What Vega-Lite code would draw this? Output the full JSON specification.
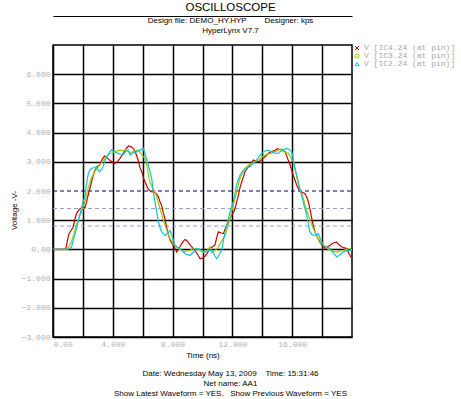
{
"$schema": "https://vega.github.io/schema/vega-lite/v6.json",
"width": 299, "height": 292,
"autosize": {"type": "none"},
"padding": {"left": 53, "top": 45, "right": 109, "bottom": 62},
"background": "white",
"config": {"view": {"stroke": "black", "strokeWidth": 1.5}, "font": "Liberation Sans",
"axisY": {"domain": false, "ticks": false, "grid": true, "gridColor": "black", "gridWidth": 1.5, "labelOverlap": false,
"labelFont": "Liberation Mono", "labelFontSize": 8, "labelColor": "#b0b0b0", "labelPadding": 3,
"titleFontSize": 8, "titleFontWeight": "normal", "titleColor": "black", "titleX": -35, "titleY": 165}},
"title": {"text": "OSCILLOSCOPE", "subtitle": ["Design file: DEMO_HY.HYP\u00a0\u00a0\u00a0\u00a0\u00a0\u00a0\u00a0\u00a0Designer: kps", "HyperLynx V7.7"], "anchor": "middle", "frame": "group", "dx": 28, "offset": -19, "fontSize": 11.5, "fontWeight": "normal", "color": "black", "subtitleFontSize": 8, "subtitleColor": "black", "subtitlePadding": 4, "subtitleLineHeight": 10},
"datasets": {
"thr_hi": [{"v": 2.0}],
"thr_lo": [{"v": 1.4}, {"v": 0.8}]
},
"data": {"values": [
{"s":"IC4","t":0,"v":0},{"s":"IC4","t":0.85,"v":0},{"s":"IC4","t":0.94,"v":0.25},{"s":"IC4","t":1.07,"v":0.54},{"s":"IC4","t":1.34,"v":0.75},{"s":"IC4","t":1.5,"v":1.1},{"s":"IC4","t":1.6,"v":1.25},{"s":"IC4","t":1.78,"v":1.38},{"s":"IC4","t":2.0,"v":1.46},{"s":"IC4","t":2.14,"v":1.42},{"s":"IC4","t":2.23,"v":1.6},{"s":"IC4","t":2.36,"v":1.88},{"s":"IC4","t":2.5,"v":2.15},{"s":"IC4","t":2.63,"v":2.43},{"s":"IC4","t":2.8,"v":2.7},{"s":"IC4","t":2.95,"v":2.83},{"s":"IC4","t":3.12,"v":2.89},{"s":"IC4","t":3.3,"v":3.1},{"s":"IC4","t":3.46,"v":3.2},{"s":"IC4","t":3.6,"v":3.15},{"s":"IC4","t":3.8,"v":3.05},{"s":"IC4","t":3.95,"v":3.0},{"s":"IC4","t":4.14,"v":2.94},{"s":"IC4","t":4.3,"v":3.0},{"s":"IC4","t":4.48,"v":3.12},{"s":"IC4","t":4.65,"v":3.25},{"s":"IC4","t":4.82,"v":3.4},{"s":"IC4","t":5.04,"v":3.54},{"s":"IC4","t":5.2,"v":3.52},{"s":"IC4","t":5.37,"v":3.46},{"s":"IC4","t":5.5,"v":3.35},{"s":"IC4","t":5.6,"v":3.2},{"s":"IC4","t":5.7,"v":3.05},{"s":"IC4","t":5.82,"v":2.8},{"s":"IC4","t":5.94,"v":2.66},{"s":"IC4","t":6.05,"v":2.45},{"s":"IC4","t":6.16,"v":2.3},{"s":"IC4","t":6.3,"v":2.14},{"s":"IC4","t":6.39,"v":2.05},{"s":"IC4","t":6.55,"v":1.98},{"s":"IC4","t":6.71,"v":1.97},{"s":"IC4","t":6.9,"v":1.92},{"s":"IC4","t":7.05,"v":1.8},{"s":"IC4","t":7.16,"v":1.62},{"s":"IC4","t":7.27,"v":1.5},{"s":"IC4","t":7.38,"v":1.25},{"s":"IC4","t":7.49,"v":1.05},{"s":"IC4","t":7.6,"v":0.75},{"s":"IC4","t":7.72,"v":0.5},{"s":"IC4","t":7.85,"v":0.3},{"s":"IC4","t":8.05,"v":0.14},{"s":"IC4","t":8.16,"v":0.05},{"s":"IC4","t":8.27,"v":-0.09},{"s":"IC4","t":8.45,"v":0.05},{"s":"IC4","t":8.61,"v":0.2},{"s":"IC4","t":8.8,"v":0.33},{"s":"IC4","t":8.94,"v":0.31},{"s":"IC4","t":9.1,"v":0.2},{"s":"IC4","t":9.25,"v":0.1},{"s":"IC4","t":9.5,"v":-0.03},{"s":"IC4","t":9.7,"v":-0.2},{"s":"IC4","t":9.84,"v":-0.32},{"s":"IC4","t":10.0,"v":-0.3},{"s":"IC4","t":10.17,"v":-0.24},{"s":"IC4","t":10.35,"v":-0.1},{"s":"IC4","t":10.5,"v":0.03},{"s":"IC4","t":10.7,"v":0.1},{"s":"IC4","t":10.84,"v":0.16},{"s":"IC4","t":10.95,"v":0.4},{"s":"IC4","t":11.06,"v":0.6},{"s":"IC4","t":11.25,"v":0.56},{"s":"IC4","t":11.4,"v":0.54},{"s":"IC4","t":11.55,"v":0.75},{"s":"IC4","t":11.73,"v":0.94},{"s":"IC4","t":11.95,"v":1.17},{"s":"IC4","t":12.1,"v":1.3},{"s":"IC4","t":12.2,"v":1.45},{"s":"IC4","t":12.4,"v":1.85},{"s":"IC4","t":12.5,"v":2.1},{"s":"IC4","t":12.62,"v":2.31},{"s":"IC4","t":12.75,"v":2.5},{"s":"IC4","t":12.84,"v":2.66},{"s":"IC4","t":13.07,"v":2.83},{"s":"IC4","t":13.25,"v":2.95},{"s":"IC4","t":13.4,"v":3.06},{"s":"IC4","t":13.6,"v":3.02},{"s":"IC4","t":13.74,"v":3.0},{"s":"IC4","t":13.9,"v":3.05},{"s":"IC4","t":14.07,"v":3.12},{"s":"IC4","t":14.25,"v":3.2},{"s":"IC4","t":14.41,"v":3.29},{"s":"IC4","t":14.6,"v":3.35},{"s":"IC4","t":14.85,"v":3.38},{"s":"IC4","t":15.0,"v":3.45},{"s":"IC4","t":15.2,"v":3.42},{"s":"IC4","t":15.35,"v":3.38},{"s":"IC4","t":15.52,"v":3.35},{"s":"IC4","t":15.7,"v":3.1},{"s":"IC4","t":15.86,"v":2.89},{"s":"IC4","t":16.0,"v":2.65},{"s":"IC4","t":16.1,"v":2.5},{"s":"IC4","t":16.2,"v":2.35},{"s":"IC4","t":16.3,"v":2.2},{"s":"IC4","t":16.45,"v":2.05},{"s":"IC4","t":16.6,"v":1.97},{"s":"IC4","t":16.86,"v":1.91},{"s":"IC4","t":17.0,"v":1.75},{"s":"IC4","t":17.08,"v":1.63},{"s":"IC4","t":17.2,"v":1.35},{"s":"IC4","t":17.31,"v":1.05},{"s":"IC4","t":17.42,"v":0.8},{"s":"IC4","t":17.53,"v":0.6},{"s":"IC4","t":17.7,"v":0.4},{"s":"IC4","t":17.86,"v":0.25},{"s":"IC4","t":18.05,"v":0.1},{"s":"IC4","t":18.2,"v":0.03},{"s":"IC4","t":18.35,"v":0.08},{"s":"IC4","t":18.53,"v":0.14},{"s":"IC4","t":18.75,"v":0.22},{"s":"IC4","t":18.98,"v":0.25},{"s":"IC4","t":19.15,"v":0.15},{"s":"IC4","t":19.32,"v":0.08},{"s":"IC4","t":19.5,"v":0.05},{"s":"IC4","t":19.65,"v":0.03},{"s":"IC4","t":19.8,"v":-0.15},{"s":"IC4","t":20.0,"v":-0.32},
{"s":"IC3","t":0,"v":0},{"s":"IC3","t":0.9,"v":0},{"s":"IC3","t":1.05,"v":0.1},{"s":"IC3","t":1.23,"v":0.25},{"s":"IC3","t":1.4,"v":0.55},{"s":"IC3","t":1.56,"v":0.83},{"s":"IC3","t":1.75,"v":1.1},{"s":"IC3","t":1.9,"v":1.28},{"s":"IC3","t":2.0,"v":1.45},{"s":"IC3","t":2.12,"v":1.63},{"s":"IC3","t":2.23,"v":1.85},{"s":"IC3","t":2.34,"v":2.08},{"s":"IC3","t":2.45,"v":2.25},{"s":"IC3","t":2.56,"v":2.43},{"s":"IC3","t":2.68,"v":2.55},{"s":"IC3","t":2.79,"v":2.66},{"s":"IC3","t":2.95,"v":2.78},{"s":"IC3","t":3.12,"v":2.89},{"s":"IC3","t":3.3,"v":3.0},{"s":"IC3","t":3.46,"v":3.12},{"s":"IC3","t":3.62,"v":3.2},{"s":"IC3","t":3.79,"v":3.29},{"s":"IC3","t":3.95,"v":3.3},{"s":"IC3","t":4.13,"v":3.35},{"s":"IC3","t":4.3,"v":3.38},{"s":"IC3","t":4.46,"v":3.4},{"s":"IC3","t":4.7,"v":3.38},{"s":"IC3","t":4.9,"v":3.42},{"s":"IC3","t":5.15,"v":3.3},{"s":"IC3","t":5.35,"v":3.35},{"s":"IC3","t":5.5,"v":3.38},{"s":"IC3","t":5.7,"v":3.4},{"s":"IC3","t":5.85,"v":3.3},{"s":"IC3","t":6.0,"v":3.2},{"s":"IC3","t":6.16,"v":3.12},{"s":"IC3","t":6.3,"v":2.8},{"s":"IC3","t":6.4,"v":2.5},{"s":"IC3","t":6.48,"v":2.31},{"s":"IC3","t":6.6,"v":2.15},{"s":"IC3","t":6.7,"v":2.05},{"s":"IC3","t":6.82,"v":1.97},{"s":"IC3","t":7.0,"v":1.7},{"s":"IC3","t":7.16,"v":1.4},{"s":"IC3","t":7.3,"v":1.15},{"s":"IC3","t":7.49,"v":0.83},{"s":"IC3","t":7.65,"v":0.6},{"s":"IC3","t":7.83,"v":0.37},{"s":"IC3","t":8.05,"v":0.2},{"s":"IC3","t":8.27,"v":0.08},{"s":"IC3","t":8.5,"v":0.0},{"s":"IC3","t":8.72,"v":-0.09},{"s":"IC3","t":8.95,"v":-0.05},{"s":"IC3","t":9.16,"v":-0.03},{"s":"IC3","t":9.4,"v":0.02},{"s":"IC3","t":9.61,"v":0.03},{"s":"IC3","t":9.85,"v":-0.05},{"s":"IC3","t":10.06,"v":-0.09},{"s":"IC3","t":10.3,"v":-0.05},{"s":"IC3","t":10.5,"v":0.08},{"s":"IC3","t":10.62,"v":-0.1},{"s":"IC3","t":10.8,"v":-0.05},{"s":"IC3","t":11.06,"v":0.08},{"s":"IC3","t":11.3,"v":0.3},{"s":"IC3","t":11.51,"v":0.48},{"s":"IC3","t":11.7,"v":0.8},{"s":"IC3","t":11.84,"v":1.05},{"s":"IC3","t":12.0,"v":1.4},{"s":"IC3","t":12.17,"v":1.74},{"s":"IC3","t":12.35,"v":2.1},{"s":"IC3","t":12.51,"v":2.43},{"s":"IC3","t":12.68,"v":2.62},{"s":"IC3","t":12.84,"v":2.77},{"s":"IC3","t":13.05,"v":2.87},{"s":"IC3","t":13.29,"v":2.94},{"s":"IC3","t":13.5,"v":3.0},{"s":"IC3","t":13.74,"v":3.06},{"s":"IC3","t":13.95,"v":3.15},{"s":"IC3","t":14.18,"v":3.23},{"s":"IC3","t":14.4,"v":3.27},{"s":"IC3","t":14.63,"v":3.29},{"s":"IC3","t":14.85,"v":3.35},{"s":"IC3","t":15.08,"v":3.4},{"s":"IC3","t":15.3,"v":3.45},{"s":"IC3","t":15.52,"v":3.32},{"s":"IC3","t":15.75,"v":3.29},{"s":"IC3","t":15.9,"v":3.15},{"s":"IC3","t":16.08,"v":3.0},{"s":"IC3","t":16.25,"v":2.6},{"s":"IC3","t":16.41,"v":2.2},{"s":"IC3","t":16.6,"v":1.95},{"s":"IC3","t":16.75,"v":1.74},{"s":"IC3","t":16.9,"v":1.45},{"s":"IC3","t":17.08,"v":1.17},{"s":"IC3","t":17.25,"v":0.92},{"s":"IC3","t":17.42,"v":0.71},{"s":"IC3","t":17.6,"v":0.52},{"s":"IC3","t":17.75,"v":0.37},{"s":"IC3","t":17.9,"v":0.25},{"s":"IC3","t":18.09,"v":0.14},{"s":"IC3","t":18.3,"v":0.05},{"s":"IC3","t":18.53,"v":-0.03},{"s":"IC3","t":18.75,"v":-0.06},{"s":"IC3","t":18.98,"v":-0.09},{"s":"IC3","t":19.2,"v":-0.05},{"s":"IC3","t":19.42,"v":-0.03},{"s":"IC3","t":19.65,"v":0.0},{"s":"IC3","t":19.87,"v":0.03},{"s":"IC3","t":20.0,"v":-0.03},
{"s":"IC2","t":0,"v":0},{"s":"IC2","t":1.0,"v":0},{"s":"IC2","t":1.23,"v":0.08},{"s":"IC2","t":1.35,"v":0.3},{"s":"IC2","t":1.45,"v":0.48},{"s":"IC2","t":1.56,"v":0.7},{"s":"IC2","t":1.67,"v":0.94},{"s":"IC2","t":1.8,"v":1.2},{"s":"IC2","t":1.9,"v":1.4},{"s":"IC2","t":2.0,"v":1.6},{"s":"IC2","t":2.12,"v":1.8},{"s":"IC2","t":2.23,"v":2.2},{"s":"IC2","t":2.34,"v":2.54},{"s":"IC2","t":2.45,"v":2.7},{"s":"IC2","t":2.56,"v":2.77},{"s":"IC2","t":2.75,"v":2.8},{"s":"IC2","t":2.9,"v":2.83},{"s":"IC2","t":3.0,"v":2.72},{"s":"IC2","t":3.12,"v":2.66},{"s":"IC2","t":3.25,"v":2.75},{"s":"IC2","t":3.35,"v":2.83},{"s":"IC2","t":3.45,"v":3.0},{"s":"IC2","t":3.57,"v":3.17},{"s":"IC2","t":3.75,"v":3.3},{"s":"IC2","t":3.9,"v":3.4},{"s":"IC2","t":4.1,"v":3.35},{"s":"IC2","t":4.35,"v":3.29},{"s":"IC2","t":4.5,"v":3.25},{"s":"IC2","t":4.68,"v":3.23},{"s":"IC2","t":4.85,"v":3.35},{"s":"IC2","t":5.02,"v":3.4},{"s":"IC2","t":5.15,"v":3.23},{"s":"IC2","t":5.35,"v":3.3},{"s":"IC2","t":5.6,"v":3.35},{"s":"IC2","t":5.8,"v":3.4},{"s":"IC2","t":6.04,"v":3.46},{"s":"IC2","t":6.2,"v":3.2},{"s":"IC2","t":6.37,"v":2.89},{"s":"IC2","t":6.5,"v":2.65},{"s":"IC2","t":6.6,"v":2.43},{"s":"IC2","t":6.7,"v":2.0},{"s":"IC2","t":6.82,"v":1.63},{"s":"IC2","t":6.95,"v":1.25},{"s":"IC2","t":7.05,"v":0.94},{"s":"IC2","t":7.16,"v":0.75},{"s":"IC2","t":7.27,"v":0.6},{"s":"IC2","t":7.49,"v":0.48},{"s":"IC2","t":7.65,"v":0.55},{"s":"IC2","t":7.83,"v":0.65},{"s":"IC2","t":8.0,"v":0.4},{"s":"IC2","t":8.16,"v":0.14},{"s":"IC2","t":8.3,"v":0.08},{"s":"IC2","t":8.5,"v":0.03},{"s":"IC2","t":8.65,"v":-0.05},{"s":"IC2","t":8.83,"v":-0.15},{"s":"IC2","t":9.0,"v":-0.18},{"s":"IC2","t":9.16,"v":-0.21},{"s":"IC2","t":9.4,"v":-0.1},{"s":"IC2","t":9.61,"v":0.03},{"s":"IC2","t":9.8,"v":0.0},{"s":"IC2","t":9.94,"v":-0.03},{"s":"IC2","t":10.17,"v":-0.09},{"s":"IC2","t":10.4,"v":-0.05},{"s":"IC2","t":10.62,"v":-0.03},{"s":"IC2","t":10.8,"v":-0.2},{"s":"IC2","t":10.95,"v":-0.32},{"s":"IC2","t":11.1,"v":-0.2},{"s":"IC2","t":11.29,"v":-0.03},{"s":"IC2","t":11.4,"v":0.3},{"s":"IC2","t":11.51,"v":0.6},{"s":"IC2","t":11.68,"v":0.95},{"s":"IC2","t":11.84,"v":1.28},{"s":"IC2","t":11.95,"v":1.45},{"s":"IC2","t":12.06,"v":1.63},{"s":"IC2","t":12.17,"v":1.9},{"s":"IC2","t":12.28,"v":2.2},{"s":"IC2","t":12.4,"v":2.4},{"s":"IC2","t":12.51,"v":2.54},{"s":"IC2","t":12.68,"v":2.68},{"s":"IC2","t":12.84,"v":2.77},{"s":"IC2","t":13.0,"v":2.8},{"s":"IC2","t":13.18,"v":2.83},{"s":"IC2","t":13.35,"v":2.92},{"s":"IC2","t":13.51,"v":3.0},{"s":"IC2","t":13.75,"v":3.15},{"s":"IC2","t":13.96,"v":3.29},{"s":"IC2","t":14.15,"v":3.35},{"s":"IC2","t":14.3,"v":3.4},{"s":"IC2","t":14.45,"v":3.38},{"s":"IC2","t":14.63,"v":3.35},{"s":"IC2","t":14.85,"v":3.3},{"s":"IC2","t":15.08,"v":3.29},{"s":"IC2","t":15.19,"v":3.35},{"s":"IC2","t":15.4,"v":3.4},{"s":"IC2","t":15.63,"v":3.46},{"s":"IC2","t":15.8,"v":3.42},{"s":"IC2","t":15.97,"v":3.35},{"s":"IC2","t":16.08,"v":3.05},{"s":"IC2","t":16.19,"v":2.77},{"s":"IC2","t":16.3,"v":2.55},{"s":"IC2","t":16.41,"v":2.31},{"s":"IC2","t":16.52,"v":2.05},{"s":"IC2","t":16.63,"v":1.85},{"s":"IC2","t":16.8,"v":1.5},{"s":"IC2","t":16.97,"v":1.17},{"s":"IC2","t":17.08,"v":0.85},{"s":"IC2","t":17.19,"v":0.6},{"s":"IC2","t":17.3,"v":0.52},{"s":"IC2","t":17.42,"v":0.48},{"s":"IC2","t":17.6,"v":0.5},{"s":"IC2","t":17.75,"v":0.54},{"s":"IC2","t":17.9,"v":0.35},{"s":"IC2","t":18.09,"v":0.14},{"s":"IC2","t":18.3,"v":0.08},{"s":"IC2","t":18.53,"v":0.03},{"s":"IC2","t":18.75,"v":-0.12},{"s":"IC2","t":18.98,"v":-0.26},{"s":"IC2","t":19.2,"v":-0.18},{"s":"IC2","t":19.42,"v":-0.09},{"s":"IC2","t":19.65,"v":-0.05},{"s":"IC2","t":19.87,"v":-0.03},{"s":"IC2","t":20.0,"v":-0.03}
]},
"resolve": {"axis": {"x": "independent"}},
"layer": [
{
"data": {"name": "thr_lo"},
"mark": {"type": "rule", "color": "#9a9ad0", "strokeWidth": 1, "strokeDash": [4, 3]},
"encoding": {
"x": {"datum": 0, "type": "quantitative", "scale": {"domain": [0, 20], "nice": false, "zero": false},
"axis": {"orient": "bottom", "domain": false, "ticks": false, "labels": false, "grid": false,
"title": ["Date: Wednesday May 13, 2009\u00a0\u00a0\u00a0\u00a0Time: 15:31:46", "Net name: AA1", "Show Latest Waveform = YES,\u00a0\u00a0\u00a0Show Previous Waveform = YES"],
"titleFontSize": 8, "titleFontWeight": "normal", "titleColor": "black", "titleLineHeight": 10, "titleX": 177, "titleY": 32, "titleBaseline": "top", "titleAnchor": null}},
"x2": {"datum": 20},
"y": {"field": "v", "type": "quantitative", "scale": {"domain": [-3, 7], "nice": false, "zero": false}, "title": "Voltage -V-",
"axis": {"values": [-3,-2,-1,0,1,2,3,4,5,6], "labelExpr": "datum.value == 0 ? '0.00' : format(datum.value, '.3f')",
"gridOpacity": {"condition": {"test": "datum.value == 2", "value": 0}, "value": 1}}}
}
},
{
"data": {"name": "thr_hi"},
"mark": {"type": "rule", "color": "#000080", "strokeWidth": 1, "strokeDash": [4, 3]},
"encoding": {
"x": {"datum": 0, "type": "quantitative",
"axis": {"orient": "top", "offset": 29, "domain": true, "domainColor": "black", "domainWidth": 1.2, "ticks": false, "labels": false, "grid": false, "title": null}},
"x2": {"datum": 20},
"y": {"field": "v", "type": "quantitative", "title": "Voltage -V-",
"axis": {"values": [-3,-2,-1,0,1,2,3,4,5,6], "labelExpr": "datum.value == 0 ? '0.00' : format(datum.value, '.3f')",
"gridOpacity": {"condition": {"test": "datum.value == 2", "value": 0}, "value": 1}}}
}
},
{
"mark": {"type": "line", "strokeWidth": 1.2, "clip": true},
"encoding": {
"x": {"field": "t", "type": "quantitative",
"axis": {"orient": "bottom", "values": [0,2,4,6,8,10,12,14,16,18], "labelExpr": "datum.value % 4 == 0 ? (datum.value == 0 ? '0.00' : format(datum.value, '.3f')) : ''",
"domain": false, "ticks": false, "grid": true, "gridColor": "black", "gridWidth": 1.5, "gridOpacity": 1, "labelOverlap": false,
"labelFont": "Liberation Mono", "labelFontSize": 8, "labelColor": "#b0b0b0", "labelPadding": 3,
"title": "Time (ns)", "titleFontSize": 8, "titleFontWeight": "normal", "titleColor": "black", "titlePadding": 3}},
"y": {"field": "v", "type": "quantitative", "title": "Voltage -V-",
"axis": {"values": [-3,-2,-1,0,1,2,3,4,5,6], "labelExpr": "datum.value == 0 ? '0.00' : format(datum.value, '.3f')",
"gridOpacity": {"condition": {"test": "datum.value == 2", "value": 0}, "value": 1}}},
"color": {"field": "s", "type": "nominal",
"scale": {"domain": ["IC4", "IC3", "IC2"], "range": ["#cc0000", "#99cc00", "#10c4d4"]},
"legend": {"orient": "none", "legendX": 300, "legendY": -1, "title": null,
"labelExpr": "'V [' + datum.label + '.24 (at pin)]'",
"labelFont": "Liberation Mono", "labelFontSize": 8, "labelColor": "#a8a8a8", "labelOffset": 3,
"symbolType": "circle", "symbolSize": 16, "symbolStrokeWidth": 1, "rowPadding": 0,
"encode": {"symbols": {"update": {"shape": {"signal": "datum.value === 'IC4' ? 'M-1,-1L1,1M1,-1L-1,1' : datum.value === 'IC3' ? 'circle' : 'triangle-up'"}, "fill": {"value": "transparent"}}}}}},
"order": {"field": "t", "type": "quantitative"}
}
}
]
}
